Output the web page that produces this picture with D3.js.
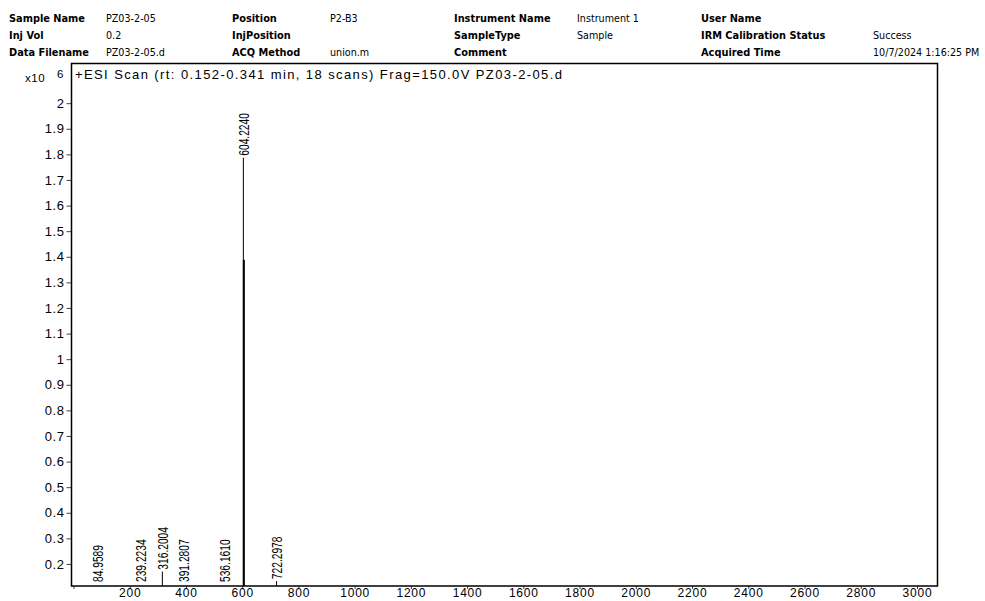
<!DOCTYPE html>
<html>
<head>
<meta charset="utf-8">
<script src="https://cdn.jsdelivr.net/npm/d3@7"></script>
<style>
  body { margin: 0; background: #fff; }
  svg { display: block; }
</style>
</head>
<body>
<div id="chart"></div>
<script>
// header fields (label, value) per column
const headerLabels = [
    ["Sample Name", "Inj Vol", "Data Filename"],
    ["Position", "InjPosition", "ACQ Method"],
    ["Instrument Name", "SampleType", "Comment"],
    ["User Name", "IRM Calibration Status", "Acquired Time"]
]
const headerValues = [
    ["PZ03-2-05", "0.2", "PZ03-2-05.d"],
    ["P2-B3", "", "union.m"],
    ["Instrument 1", "Sample", ""],
    ["", "Success", "10/7/2024 1:16:25 PM"]
]

const scanTitle = "+ESI Scan (rt: 0.152-0.341 min, 18 scans) Frag=150.0V PZ03-2-05.d"

// peaks: m/z and intensity (x10^6)
const peakMz = [84.9589, 239.2234, 316.2004, 391.2807, 536.1610, 604.2240, 722.2978]
const peakIntensity = [0.10, 0.10, 0.17, 0.10, 0.10, 1.787, 0.133]
// lower, broader part of the main peak
const shoulderMz = [604.2240]
const shoulderIntensity = [1.388]

const xTicks = d3.range(0, 3001, 200)
const yTicks = d3.range(2, 21).map(d => d / 10)

const width = 985
const height = 601
const marginLeft = 71.5
const marginRight = 47.5
const marginTop = 63.5
const marginBottom = 15

const svg = d3.select("#chart")
    .append("svg")
    .attr("width", width)
    .attr("height", height)
    .attr("viewBox", [0, 0, width, height])

// header block
const colLabelX = [9, 232, 454, 701]
const colValueX = [106, 330, 577, 873]
const rowY = [22, 39, 56]

headerLabels.forEach((col, c) => {
    col.forEach((label, r) => {
        svg.append("text")
            .attr("x", colLabelX[c])
            .attr("y", rowY[r])
            .attr("font-family", "DejaVu Sans")
            .attr("font-weight", "bold")
            .attr("font-size", 9.8)
            .attr("fill", "#000")
            .text(label)
        const v = headerValues[c][r]
        if (v) {
            svg.append("text")
                .attr("x", colValueX[c])
                .attr("y", rowY[r])
                .attr("font-family", "DejaVu Sans")
                .attr("font-size", 9.6)
                .attr("fill", "#000")
                .text(v)
        }
    })
})

const xScale = d3.scaleLinear([-7, 3073], [marginLeft, width - marginRight])
const yScale = d3.scaleLinear([0.114, 2.155], [height - marginBottom, marginTop]).clamp(true)
const yBottom = height - marginBottom

const xAxis = d3.axisBottom(xScale)
    .tickValues(xTicks)
    .tickSize(3)
    .tickFormat(d => d === 0 ? "" : d)
const yAxis = d3.axisLeft(yScale)
    .tickValues(yTicks)
    .tickSize(5)
    .tickFormat(d3.format("~g"))

svg.append("g")
    .attr("transform", `translate(0,${yBottom})`)
    .call(xAxis)
    .call(g => g.select(".domain").remove())
    .call(g => g.selectAll("line").attr("stroke", "#444"))
    .call(g => g.selectAll("text")
        .attr("y", 2.5)
        .attr("font-family", "Liberation Sans, Arial, sans-serif")
        .attr("font-size", 12)
        .attr("letter-spacing", 0.8)
        .attr("fill", "#000"))

svg.append("g")
    .attr("transform", `translate(${marginLeft},0)`)
    .call(yAxis)
    .call(g => g.select(".domain").remove())
    .call(g => g.selectAll("line").attr("stroke", "#444"))
    .call(g => g.selectAll("text")
        .attr("x", -7)
        .attr("font-family", "Liberation Sans, Arial, sans-serif")
        .attr("font-size", 13)
        .attr("letter-spacing", 0.6)
        .attr("fill", "#000"))

// exponent label
svg.append("text")
    .attr("x", 25)
    .attr("y", 82)
    .attr("font-family", "Liberation Sans, Arial, sans-serif")
    .attr("font-size", 11.5)
    .attr("letter-spacing", 0.6)
    .text("x10")
svg.append("text")
    .attr("x", 57)
    .attr("y", 78)
    .attr("font-family", "Liberation Sans, Arial, sans-serif")
    .attr("font-size", 11.5)
    .text("6")

// plot frame
svg.append("rect")
    .attr("x", marginLeft)
    .attr("y", marginTop)
    .attr("width", width - marginRight - marginLeft)
    .attr("height", yBottom - marginTop)
    .attr("fill", "none")
    .attr("stroke", "#000")
    .attr("stroke-width", 1.5)

svg.append("text")
    .attr("x", 75)
    .attr("y", 79)
    .attr("font-family", "Liberation Sans, Arial, sans-serif")
    .attr("font-size", 13)
    .attr("textLength", 487)
    .attr("lengthAdjust", "spacing")
    .attr("fill", "#000")
    .text(scanTitle)

// sticks
const peaks = peakMz.map((mz, i) => ({mz, y: peakIntensity[i]}))
const shoulders = shoulderMz.map((mz, i) => ({mz, y: shoulderIntensity[i]}))

svg.append("g")
    .attr("stroke", "#000")
    .attr("stroke-width", 1)
    .selectAll("line")
    .data(peaks)
    .join("line")
    .attr("x1", d => xScale(d.mz))
    .attr("x2", d => xScale(d.mz))
    .attr("y1", yBottom)
    .attr("y2", d => yScale(d.y))

svg.append("g")
    .attr("stroke", "#000")
    .attr("stroke-width", 2)
    .selectAll("line")
    .data(shoulders)
    .join("line")
    .attr("x1", d => xScale(d.mz) + 0.5)
    .attr("x2", d => xScale(d.mz) + 0.5)
    .attr("y1", yBottom)
    .attr("y2", d => yScale(d.y))

// peak labels, rotated and condensed
svg.append("g")
    .attr("font-family", "Liberation Sans, Arial, sans-serif")
    .attr("font-size", 14)
    .attr("fill", "#000")
    .selectAll("text")
    .data(peaks)
    .join("text")
    .attr("transform", d => `translate(${xScale(d.mz) + 0.5},${Math.min(yScale(d.y) - 2, yBottom - 4)}) rotate(-90) scale(0.73,1)`)
    .attr("dy", "0.36em")
    .text(d => d.mz.toFixed(4))
</script>
</body>
</html>
